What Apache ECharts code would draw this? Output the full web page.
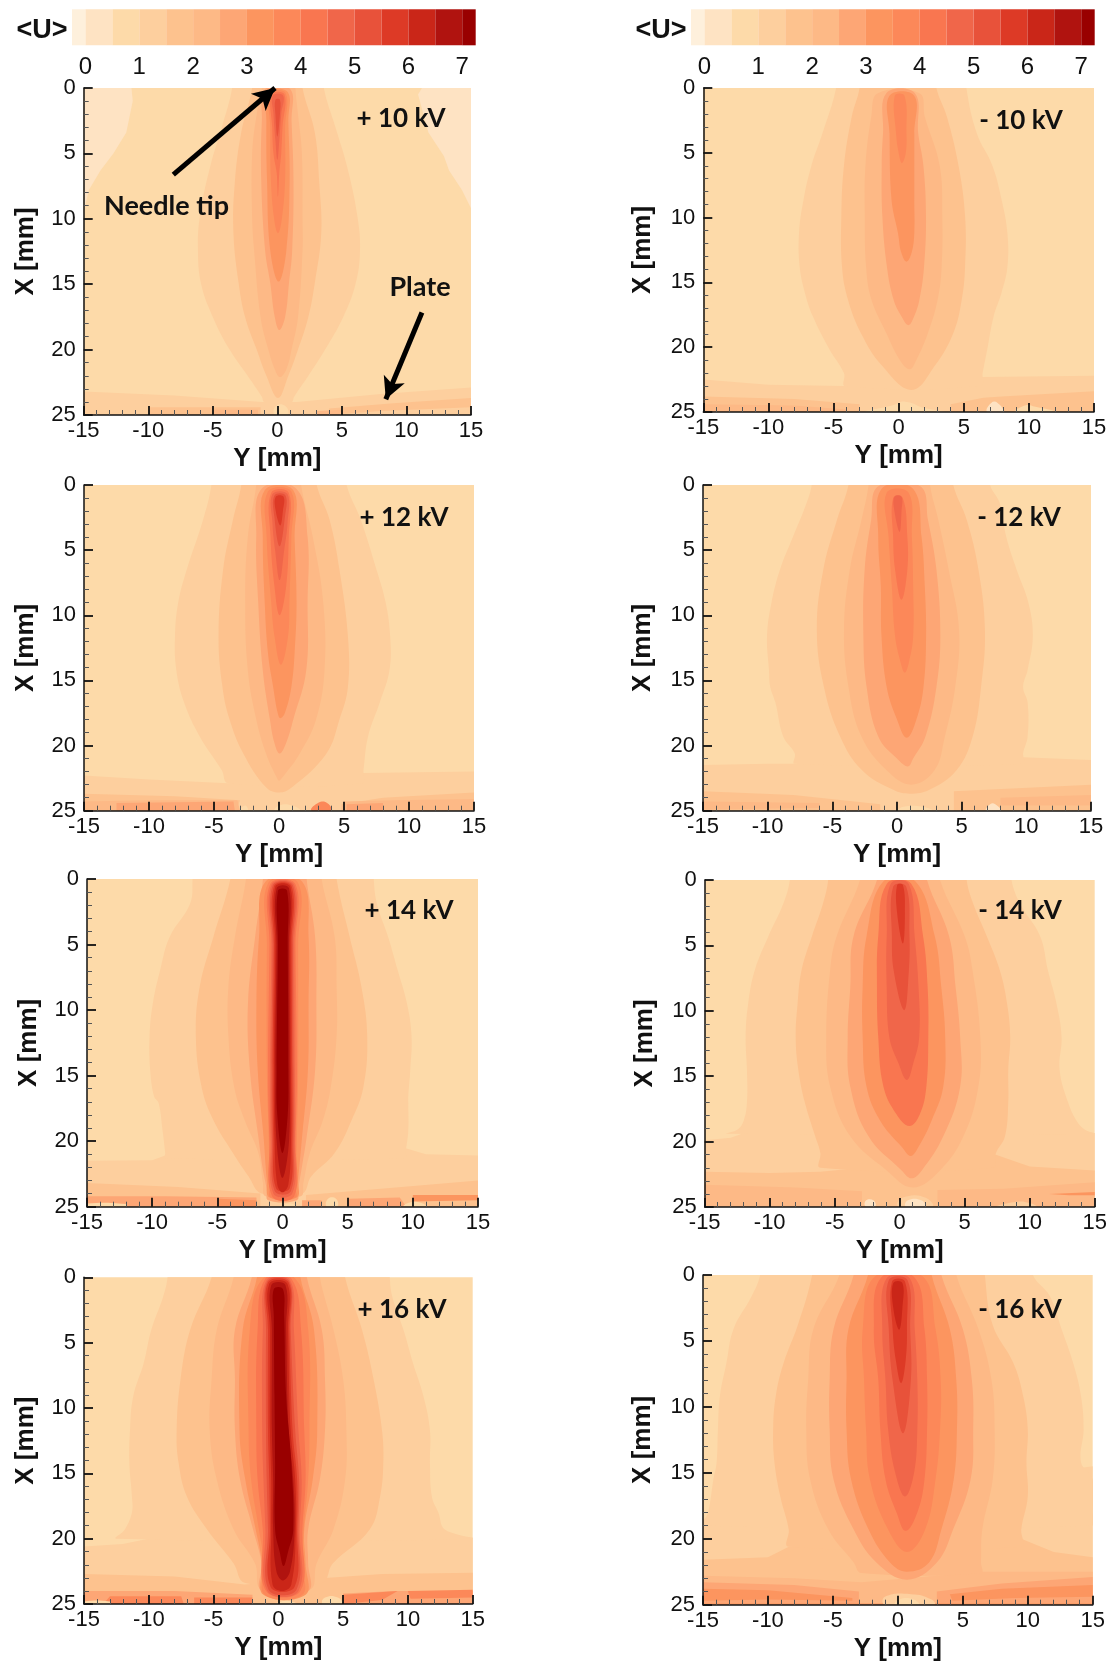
<!DOCTYPE html>
<html><head><meta charset="utf-8">
<script src="https://cdn.jsdelivr.net/npm/echarts@6/dist/echarts.min.js"></script>
<style>html,body{margin:0;padding:0;background:#fff}#c{width:1112px;height:1663px}</style>
</head><body><div id="c"></div>
<script>
// colour scale <U>
const bandEdges=[-0.25,0,0.5,1,1.5,2,2.5,3,3.5,4,4.5,5,5.5,6,6.5,7,7.25];
const bandColors=['#FEF0DC','#FEE3C3','#FDDAA9','#FDCF9E','#FDC28E','#FDB986','#FDA675','#FC955F','#FC8859','#F97650','#F0664A','#E8523A','#DD3A26','#CA2618','#B0130F','#990000'];
const barTicks=[0,1,2,3,4,5,6,7];
const xTicksMin=-15,xTicksMax=15,yTicksMax=25;

// Each panel: under = free polygons [colourIndex,[[Y,X],...]], plume = [colourIndex,[[X,Yleft,Yright],...]], over = free polygons
const p10under=[
[1,[[-15,0],[-11.3,0],[-11.2,1],[-11.7,3.4],[-12.7,5],[-13.7,6.3],[-14.6,7.8],[-15,9.5]]],
[1,[[15,0],[11.2,0],[10.9,.5],[11.7,3.4],[12.9,5.2],[13.3,6.3],[14.3,7.8],[15,9.2]]],
[3,[[-15,23.2],[-8,23.5],[-1.2,24],[1.5,24],[8,23.4],[15,22.9],[15,25],[-15,25]]],
[4,[[-10,24.4],[-5,24.4],[-1.3,24.4],[-1.3,25],[-10,25]]],
[4,[[4,24.5],[9,24.1],[15,23.7],[15,24.4],[8,24.7],[4,25]]],
[5,[[-5,24.6],[-1.5,24.6],[-1.5,25],[-5,25]]],
[5,[[3,24.7],[5,24.6],[4.8,25],[3,25]]]];
const p10plume=[
[3,[[0,-3.5,3.6],[3,-4.3,4.5],[6,-5.2,5.4],[9.8,-6,6.2],[12.5,-6.15,6.4],[15,-5.9,6.05],[17.5,-5,5.1],[20,-3.7,3.7],[22,-2.3,2.4],[23.6,-1.2,1.3],[24,-1,1.1]]],
[4,[[0,-1.95,1.95],[3.4,-2.8,2.9],[7.3,-3.3,3.25],[11.1,-3.4,3.4],[14.9,-3,2.9],[17.5,-2.5,2.4],[20,-1.6,1.6],[22,-.85,.85],[23.7,.05,.05]]],
[5,[[0,-1.2,1.4],[2,-1.6,1.6],[5,-1.95,1.9],[10,-1.95,1.95],[12.4,-1.8,1.95],[17.5,-1.3,1.6],[20,-.7,1.1],[21.5,-.2,.7],[22.1,.2,.2]]],
[6,[[.1,-.95,1],[2.5,-1.2,1.1],[7,-1.25,1.25],[12.4,-.95,1.15],[14.9,-.55,.9],[17.5,-.2,.6],[18.5,.15,.15]]],
[7,[[.3,-.75,.8],[2.5,-.85,.85],[7,-.8,.95],[12.4,-.55,.7],[14.8,.1,.1]]],
[8,[[.4,-.55,.65],[3,-.55,.6],[7,-.5,.6],[10,-.25,.35],[11.1,.05,.05]]],
[9,[[.5,-.45,.55],[3,-.4,.4],[5,-.3,.3],[6.5,-.05,.15],[8.3,.05,.05]]],
[10,[[.6,-.35,.45],[2,-.3,.3],[4,-.15,.15],[5.5,0,0]]],
[11,[[.9,-.15,.2],[2,-.15,.2],[3.7,0,0]]]];
const p10over=[[2,[[-.2,25],[-.1,24.3],[.6,24.3],[.8,25]]]];

const m10under=[
[3,[[-15,22.5],[-10,22.9],[-4.2,23],[6.4,22.3],[15,22.2],[15,25],[-15,25]]],
[4,[[-15,23.8],[-8,24],[-3,24.4],[-3,25],[-15,25]]],
[4,[[4,24.4],[6.5,23.9],[7.9,23.8],[15,23.4],[15,25],[4,25]]],
[5,[[-15,24.4],[-8,24.5],[-4,24.8],[-4,25],[-15,25]]]];
const m10plume=[
[3,[[0,-4.8,5.2],[3.5,-5.85,6],[6,-6.7,7.2],[8.6,-7.3,7.9],[11.2,-7.65,8.35],[13.8,-7.6,8.35],[15.8,-7.2,7.9],[17.6,-6.6,7.3],[20.2,-5.3,6.8],[22,-4.2,6.45],[23,-4.1,6.3]]],
[4,[[0,-3,2.9],[2.2,-3.6,3.7],[6,-4.2,4.6],[9.9,-4.4,5.1],[13.8,-4.35,5.1],[16.3,-3.9,4.85],[18.9,-2.9,4.2],[21.4,-1.3,2.8],[23.3,1,1]]],
[5,[[.4,-1.6,1.6],[2.2,-2.1,2],[6,-2.55,3.15],[9.9,-2.6,3.35],[13.8,-2.5,3.3],[16.3,-2.1,3],[18.9,-.95,2.25],[21,.1,1.35],[21.7,.85,.85]]],
[6,[[.4,-.95,1.25],[3.5,-1.2,1.5],[6,-1.3,1.9],[9.9,-1.25,2.1],[13.8,-.9,1.95],[16.3,-.4,1.6],[17.6,.2,1.2],[18.3,.75,.75]]],
[7,[[.6,-.7,1.2],[3.5,-.7,1.2],[8.6,-.55,1.2],[11.2,-.05,1.2],[12.7,.2,1],[13.4,.6,.6]]],
[8,[[.6,-.3,.45],[3.5,-.2,.6],[5,0,.55],[5.8,.25,.25]]]];
const m10over=[
[2,[[-2.5,25],[-.5,24.5],[.5,24.2],[2,24.7],[3.5,25]]],
[1,[[6.8,25],[7.1,24.3],[7.6,24.3],[8,25]]],
[2,[[9,25],[9.7,24.5],[10.5,24.6],[12,25]]]];

const p12under=[
[3,[[-15,22.3],[-10,22.6],[-3.9,22.9],[6.4,22.1],[15,22],[15,25],[-15,25]]],
[4,[[-15,23.7],[-8,23.9],[-3,24.2],[-3.3,25],[-15,25]]],
[4,[[4.8,24.5],[8,24],[15,23.6],[15,25],[4.8,25]]],
[5,[[-15,24.3],[-10,24.2],[-3.2,24.2],[-3,25],[-15,25]]],
[5,[[5,24.3],[9,24.2],[15,24.1],[15,25],[5,25]]],
[6,[[-12.5,24.4],[-3.5,24.3],[-3.4,25],[-12.5,25]]],
[6,[[5.2,24.5],[8,24.4],[8,25],[5.2,25]]]];
const p12plume=[
[3,[[0,-5.2,5.2],[2.7,-5.85,6.3],[6.5,-7.1,7.5],[9,-7.75,8.2],[11.6,-8,8.55],[14.2,-7.9,8.5],[16.7,-7.3,7.75],[19.3,-6.1,6.85],[21.9,-4.4,6.5],[22.9,-3.9,6.4]]],
[4,[[0,-2.9,2.9],[2.7,-3.55,3.9],[6.5,-4.3,4.65],[11.6,-4.65,5.3],[15.5,-4.35,5.3],[18,-3.8,4.65],[20.6,-2.75,3.65],[23.2,-1,1],[23.6,0,0]]],
[5,[[0,-1.75,1.7],[4,-2.4,2.6],[9,-2.6,3.4],[14.2,-2.4,3.5],[18,-1.75,2.85],[20.6,-1,1.6],[22.4,-.2,.3],[22.7,0,0]]],
[6,[[.3,-1.35,1.35],[4,-1.75,2.2],[9,-1.6,2.2],[14.2,-1.25,2.1],[18,-.7,1.1],[19.8,-.35,.55],[20.6,.05,.05]]],
[7,[[.4,-1.1,1.1],[4,-1.25,1.2],[9,-1.1,1.35],[12.9,-.85,1.2],[15.5,-.45,.95],[17.5,-.1,.45],[17.9,.1,.1]]],
[8,[[.5,-.85,.95],[4,-.95,.95],[9,-.6,.8],[11.6,-.35,.7],[13.8,.15,.15]]],
[9,[[.6,-.6,.75],[4,-.65,.75],[7.8,-.35,.55],[10,.05,.05]]],
[10,[[.7,-.5,.65],[3,-.5,.65],[5,-.3,.4],[7.3,.05,.05]]],
[11,[[.8,-.35,.5],[2.5,-.35,.45],[4.7,.05,.05]]],
[12,[[.9,-.25,.35],[2,-.25,.3],[3.1,.1,.1]]]];
const p12over=[
[8,[[2.5,25],[3,24.4],[3.7,24.4],[4,25]]],
[2,[[-3,25],[-2.6,24.6],[-2.4,25]]],
[2,[[-.3,25],[0,24.6],[1,24.6],[1.6,25]]]];

const m12under=[
[3,[[-15,21.5],[-10,21.4],[-7.9,21.4],[9.75,20.9],[15,21.1],[15,25],[-15,25]]],
[4,[[-15,23.5],[-8,23.8],[-1.3,24.5],[-1.3,25],[-15,25]]],
[4,[[4.4,23.5],[15,23],[15,25],[4.4,25]]],
[5,[[-15,24.3],[-6,24.4],[-6,24.8],[-15,24.9]]],
[5,[[8,24],[15,23.8],[15,24.6],[8,24.6]]]];
const m12plume=[
[3,[[0,-6.6,7.2],[1.4,-7,7.95],[4,-8.05,8.45],[6.5,-9.05,9.25],[9,-9.7,10.15],[11.6,-10.05,10.5],[14.2,-9.9,10.1],[15.5,-9.8,9.75],[16.7,-9.4,10.1],[19.3,-8.8,10.1],[20.6,-7.9,9.75],[21.4,-7.9,9.75]]],
[4,[[0,-3.75,4.35],[2.7,-4.65,5.4],[6.5,-5.7,6.3],[11.15,-6.2,6.8],[15.5,-5.65,6.5],[19.3,-4.4,5.85],[21.9,-2.7,4.6],[23.4,-.3,2.5],[23.7,1,1]]],
[5,[[0,-2.2,2.55],[2.7,-2.75,3.2],[6.5,-3.65,4],[11.15,-4.1,4.8],[15.5,-3.75,4.5],[19.3,-2.75,3.7],[21.9,-.8,2.9],[23,1.1,1.1]]],
[6,[[.1,-1.45,1.8],[2.7,-2,2.4],[6.5,-2.5,3.05],[11.6,-2.6,3.35],[15.5,-2.35,3.05],[19.3,-1.45,2.2],[21,0,1.25],[21.6,.85,.85]]],
[7,[[.3,-1.2,1.25],[4,-1.45,1.9],[7.8,-1.25,2.15],[11.6,-1.2,2.25],[15.5,-.8,2.05],[18,0,1.5],[19.4,.75,.75]]],
[8,[[.6,-.8,.9],[4,-.65,1.15],[7.8,-.4,1.25],[11.6,-.15,1.25],[13.7,.3,.9],[14.4,.6,.6]]],
[9,[[1,-.3,.45],[4,-.3,.8],[6.5,-.15,.8],[8.8,.35,.35]]],
[10,[[.9,-.2,.35],[2,-.2,.35],[3.6,.2,.2]]]];
const m12over=[
[1,[[6.9,25],[7.2,24.5],[7.6,24.5],[8,25]]],
[2,[[.1,25],[.5,24.7],[2,24.7],[2.7,25]]]];

const p14under=[
[3,[[-15,21.5],[-10,21.45],[-9,21.1],[9.45,20.55],[11,21],[15,21.1],[15,25],[-15,25]]],
[4,[[-15,23.2],[-8,23.5],[-1.7,24],[-1.7,25],[-15,25]]],
[4,[[1.8,24.1],[8,23.6],[15,23],[15,25],[1.8,25]]],
[6,[[-15,24.2],[-9,24.2],[-2,24.3],[-2,25],[-15,25]]],
[6,[[5,24.4],[9,24.3],[9.5,25],[5,25]]],
[7,[[10,24.1],[15,24.1],[15,24.5],[10,24.6]]],
[7,[[-5,24.4],[-2,24.5],[-2,25],[-5,25]]],
[6,[[1.5,24.5],[3,24.5],[3,25],[1.5,25]]]];
const p14plume=[
[3,[[0,-6.9,7],[1.9,-7.1,7.25],[4.4,-8.65,8.1],[7,-9.4,8.85],[9.5,-9.95,9.55],[12,-10.2,9.9],[14.6,-10.15,9.8],[16.6,-9.85,9.65],[17.1,-9.5,9.65],[19.2,-9.2,9.65],[20.9,-9,9.45],[21.3,-9,9.45]]],
[4,[[0,-4,4.15],[4.4,-5.3,5.15],[8.2,-6.35,6.05],[12,-6.65,6.5],[15.9,-6.2,6.2],[18.4,-5.3,5.3],[20.9,-3.8,4],[22.7,-2.6,2.2],[24,-1.6,1.5]]],
[5,[[0,-2.8,3],[4.4,-3.65,4],[8.2,-4.15,4.15],[12,-4.15,4.15],[15.9,-3.7,3.7],[18.4,-2.9,3.1],[20.9,-1.85,2.1],[23.2,-1.5,1.6],[24.2,-1.3,1.4]]],
[6,[[0,-1.5,1.85],[4.4,-2.1,2.5],[9.5,-2.65,2.6],[14.6,-2.5,2.5],[19.7,-1.85,1.85],[22.2,-1.5,1.45],[23.7,-1.2,1.2],[24.5,-1.1,1.1]]],
[7,[[.2,-1.3,1.5],[4.4,-1.8,2],[9.5,-2,2],[14.6,-1.9,1.95],[19.7,-1.45,1.5],[23,-1.2,1.2],[24.3,-1,1.1]]],
[8,[[.3,-1.1,1.2],[5,-1.2,1.2],[14.6,-1.2,1.2],[20,-1.05,1.1],[23.5,-1,1],[24.3,-.9,1]]],
[9,[[.4,-.95,1],[5,-1,1],[14.6,-1.1,1.1],[20,-1,1],[24.2,-.8,.9]]],
[10,[[.45,-.85,.9],[5,-.85,.9],[14.6,-.95,.95],[20,-.9,.95],[24,-.7,.75]]],
[11,[[.5,-.75,.8],[5,-.75,.8],[14.6,-.85,.85],[20,-.8,.85],[23.8,-.6,.65]]],
[12,[[.55,-.65,.7],[5,-.65,.7],[14.6,-.75,.75],[20,-.7,.75],[23.6,-.5,.55]]],
[13,[[.6,-.55,.6],[5,-.55,.6],[14.6,-.65,.65],[20,-.6,.65],[23.3,-.4,.45],[23.9,0,0]]],
[14,[[.7,-.45,.5],[5,-.45,.5],[14.6,-.55,.55],[20,-.45,.5],[22.8,0,0]]],
[15,[[.9,-.35,.35],[5,-.35,.4],[14.6,-.45,.45],[18,-.4,.4],[20.9,0,0]]]];
const p14over=[
[2,[[3.4,25],[3.5,24.4],[4.1,24.4],[4.2,25]]],
[2,[[-15,25],[-15,24.75],[-12,24.8],[-12,25]]],
[2,[[.1,25],[.3,24.8],[.8,24.8],[1,25]]],
[2,[[9.3,25],[9.7,24.7],[10.6,24.7],[11,25]]]];

const m14under=[
[3,[[-15,19.9],[-13,19.7],[-11,19],[12,18.5],[15,19.4],[15,25],[-15,25]]],
[4,[[-15,22.3],[-10,22.4],[-6.1,22.3],[7.4,21],[10,21.9],[15,22.2],[15,25],[-15,25]]],
[5,[[-15,23.3],[-8,23.5],[-2.9,23.8],[-2.9,25],[-15,25]]],
[5,[[2.9,23.7],[8,23.6],[15,23.1],[15,25],[2.9,25]]],
[7,[[11.5,24],[15,23.85],[15,24.1],[13,24.1]]]];
const m14plume=[
[3,[[0,-8.45,8.6],[1.8,-8.95,9.25],[4.3,-10.1,10.8],[6.9,-11.15,11.4],[9.4,-11.65,12.05],[12,-11.85,12.45],[14.5,-11.75,12.3],[17,-11.75,12.95],[18.4,-12,13.6],[19.1,-12.5,14.25],[19.4,-13.3,15]]],
[4,[[0,-5.5,5.15],[1.8,-5.9,5.65],[4.3,-6.75,6.7],[6.9,-7.55,7.7],[9.4,-7.85,8.25],[12,-8,8.5],[14.5,-7.8,8.35],[17,-7.3,8.35],[19.6,-6.5,8.1],[20.9,-6.1,7.4],[22,-6.1,7.2]]],
[5,[[0,-3.05,3.1],[4.3,-4.85,5],[6.9,-5.35,5.6],[12,-5.65,6.2],[15.8,-5.35,6.05],[19.6,-3.8,4.9],[22.2,-1,3.1],[23.5,1,1]]],
[6,[[0,-1.75,2.1],[4.3,-3.55,3.8],[8.2,-3.8,4.3],[12,-4,4.65],[15.8,-3.8,4.65],[19.6,-2.4,3.35],[22.2,.15,1.7],[22.8,.9,.9]]],
[7,[[.1,-1.25,1.2],[4.3,-2.55,2.7],[8.2,-2.85,3.2],[12,-2.85,3.5],[15.8,-2.55,3.35],[18.4,-1.5,2.45],[20.4,.15,1.45],[21.1,.85,.85]]],
[9,[[.3,-1,.9],[4.3,-1.65,1.8],[8.2,-1.75,2.15],[12,-1.65,2.2],[15.8,-1.25,2.05],[17.9,-.25,1.55],[18.8,.75,.75]]],
[10,[[.3,-.7,.7],[4.3,-1,1.15],[8.2,-1,1.45],[12,-.8,1.5],[14,-.1,1.05],[15.3,.55,.55]]],
[11,[[.5,-.5,.5],[4.3,-.6,.75],[7,-.45,.7],[9.95,.35,.35]]],
[12,[[.4,-.2,.25],[2.5,-.2,.4],[4.85,.25,.25]]]];
const m14over=[
[3,[[-.2,24.7],[.5,24.2],[2,24.3],[2.5,25],[0,25]]],
[1,[[-2.6,25],[-2.6,24.5],[-2,24.5],[-1.9,25]]],
[1,[[.5,25],[.6,24.5],[1.7,24.5],[1.9,25]]],
[3,[[7.5,25],[9,24.6],[10,24.7],[10.5,25]]]];

const p16under=[
[3,[[-15,20.6],[-12,20.4],[-9,19.8],[9,19.6],[13,19.7],[15,20],[15,25],[-15,25]]],
[4,[[-15,22.7],[-8,22.9],[-2.6,23.5],[3.9,23],[8,22.7],[15,22.6],[15,25],[-15,25]]],
[6,[[-15,24],[-8,24],[-2,24.3],[-2,25],[-15,25]]],
[6,[[5,24.2],[9,24],[15,24],[15,25],[5,25]]],
[8,[[-13,24.4],[-7.5,24.4],[-7.3,25],[-13.5,25]]],
[8,[[-6.5,24.5],[-2,24.5],[-2,25],[-6.5,25]]],
[8,[[5,24.3],[9.2,24],[8,24.7],[5,25]]],
[8,[[10,24],[15,23.9],[15,24.5],[10.2,24.6]]]];
const p16plume=[
[3,[[0,-8.55,8.6],[1.5,-8.9,8.8],[4,-9.8,9.65],[6.6,-10.4,10.4],[9.1,-11.2,11.2],[11.7,-11.45,11.7],[14.2,-11.5,11.7],[16.8,-11.3,11.85],[18,-11.3,12.35],[19.3,-11.85,12.85],[20,-12.5,15]]],
[4,[[0,-5.15,5.15],[4,-6.8,6.45],[7.8,-7.55,7.35],[11.7,-7.85,8],[14.2,-7.7,8.1],[16.8,-7.05,7.85],[19.3,-5.5,7.05],[21.9,-3.45,4.2],[23.4,-2.55,3.35]]],
[5,[[0,-3.45,3.2],[4,-4.75,4.25],[7.8,-5.15,5],[11.7,-5.3,5.25],[15.5,-4.75,5.15],[19.3,-3.45,4.25],[21.9,-1.8,2.95],[23.9,-1.3,2.45]]],
[6,[[0,-2.05,2.2],[4,-3.35,3.35],[7.8,-3.35,3.6],[11.7,-3.35,3.6],[15.5,-2.95,3.2],[19.3,-1.95,2.3],[21.9,-1.3,2.3],[24,-1.3,2.3]]],
[7,[[0,-1.65,1.7],[4,-2.75,2.75],[11.7,-3,3],[15.5,-2.55,2.65],[19.3,-1.75,2],[21.9,-1.25,2.1],[24.3,-1.15,2.1]]],
[8,[[.1,-1.2,1.3],[4,-2.2,2.3],[11.7,-2.3,2.4],[15.5,-2.1,2.3],[19.3,-1.5,1.95],[21.9,-1.1,1.85],[24.3,-1.05,1.85]]],
[9,[[.1,-1,1],[4,-1.6,1.75],[11.7,-1.7,2],[15.5,-1.6,2.1],[19.3,-1.2,1.85],[24,-.95,1.7]]],
[10,[[.2,-.9,.9],[4,-1.2,1.2],[11.7,-1.25,1.55],[15.5,-1.15,1.8],[19.3,-1,1.65],[24,-.85,1.55]]],
[11,[[.3,-.85,.85],[4,-.95,.95],[11.7,-.95,1.3],[15.5,-.9,1.6],[19.3,-.8,1.55],[23.9,-.75,1.4]]],
[12,[[.4,-.8,.8],[4,-.8,.85],[11.7,-.8,1.1],[15.5,-.7,1.45],[19.3,-.65,1.45],[23.7,-.6,1.25]]],
[13,[[.5,-.7,.7],[4,-.65,.75],[11.7,-.65,.95],[15.5,-.55,1.3],[19.3,-.55,1.35],[23.5,-.45,1],[24,.3,.3]]],
[14,[[.6,-.55,.55],[4,-.5,.6],[11.7,-.5,.8],[15.5,-.4,1.15],[19.3,-.4,1.25],[22.5,-.15,.9],[23.2,.35,.35]]],
[15,[[.9,-.35,.35],[3,-.35,.45],[9,-.3,.6],[14.2,-.25,1],[19.3,-.25,1.15],[21,.1,.75],[22.1,.4,.4]]]];
const p16over=[
[2,[[3.4,25],[3.6,24.5],[4.6,24.5],[4.9,25]]],
[2,[[-15,25],[-15,24.8],[-13,24.8],[-13,25]]],
[4,[[2,24.5],[3,24.3],[3.3,25],[2,25]]],
[2,[[-.2,25],[.2,24.8],[1,24.8],[1.4,25]]]];

const m16under=[
[3,[[-15,18.5],[15,14.5],[15,25],[-15,25]]],
[4,[[-15,21.6],[-10,21.4],[-8.4,20.6],[9.5,20],[12,21],[15,21.4],[15,25],[-15,25]]],
[5,[[-15,22.8],[-8,23],[-2.8,23.3],[6.5,22.5],[15,22.5],[15,25],[-15,25]]],
[6,[[-15,23.3],[-8,23.5],[-3,24],[-3,25],[-15,25]]],
[6,[[3,24],[8,23.4],[15,22.9],[15,25],[3,25]]],
[7,[[-15,23.8],[-10,23.9],[-3.5,24.5],[-3.5,24.7],[-10,24.6],[-15,24.7]]],
[7,[[4,24.2],[8,23.8],[15,23.5],[15,24.4],[9,24.5],[4.2,24.7]]],
[7,[[-15,24.9],[15,24.9],[15,25],[-15,25]]]];
const m16plume=[
[3,[[0,-10.6,10.4],[1.6,-11.25,11.7],[4.1,-12.65,12.6],[6.7,-13.2,13.5],[9.2,-13.7,14.1],[11.7,-13.85,14.3],[14.2,-13.95,14.1],[15.5,-14.2,15],[18,-14.6,15],[19,-15,15]]],
[4,[[0,-6.6,6.7],[3.8,-7.7,7.3],[6.7,-8.8,8.9],[9.2,-9.4,9.65],[11.7,-9.6,10],[14.2,-9.5,9.9],[16.8,-9.05,10],[19.3,-8.4,9.5],[20.6,-8.4,9.5]]],
[5,[[0,-4.5,4.5],[4.1,-6.5,6.2],[7.9,-6.9,7.2],[11.7,-7.05,7.45],[15.5,-6.75,7.3],[19.3,-5.35,6.5],[21.8,-3.4,6.4],[22.6,-2.8,6.4]]],
[6,[[0,-3.4,3.35],[4.1,-4.95,5],[8,-5.25,5.7],[11.7,-5.25,5.8],[15.5,-4.95,5.6],[19.3,-3.4,4.25],[21.8,-1.65,3],[23.1,.7,.7]]],
[7,[[0,-2.3,2.6],[4.1,-3.8,4],[8,-3.95,4.5],[11.7,-3.95,4.55],[15.5,-3.6,4.3],[19.3,-2.25,3.35],[21.8,-.6,2.4],[22.5,.7,.7]]],
[8,[[.1,-1.75,1.9],[4.1,-2.7,2.9],[8,-2.6,3.3],[11.7,-2.45,3.25],[15.5,-2.15,2.9],[19.3,-.75,2.1],[21,.7,.7]]],
[9,[[.2,-1.3,1.3],[4.1,-1.85,2.05],[8,-1.5,2.25],[11.7,-1.35,2.25],[15.5,-.95,2.05],[18,-.1,1.5],[19.4,.6,.6]]],
[10,[[.3,-.9,.95],[4.1,-1.2,1.3],[8,-.95,1.5],[11.7,-.75,1.5],[15,-.2,1.25],[16.8,.55,.55]]],
[11,[[.4,-.7,.75],[4.1,-.7,.95],[8,-.4,1],[12,.4,.4]]],
[12,[[.5,-.45,.55],[4.1,-.4,.7],[6.5,-.15,.6],[8.2,.25,.25]]],
[13,[[.6,-.35,.35],[2.5,-.35,.35],[4.15,.1,.1]]]];
const m16over=[
[3,[[-1,25],[-1,24.4],[1,24.2],[2.6,24.6],[2.8,25]]],
[2,[[-.2,25],[.1,24.6],[1.2,24.6],[1.6,25]]]];

const panelNames=['+ 10 kV','- 10 kV','+ 12 kV','- 12 kV','+ 14 kV','- 14 kV','+ 16 kV','- 16 kV'];
const panelUnder=[p10under,m10under,p12under,m12under,p14under,m14under,p16under,m16under];
const panelPlume=[p10plume,m10plume,p12plume,m12plume,p14plume,m14plume,p16plume,m16plume];
const panelOver=[p10over,m10over,p12over,m12over,p14over,m14over,p16over,m16over];
const needleArrow=[[-8.06,6.63],[-0.18,0]];
const plateArrow=[[11.2,17.17],[8.4,23.8]];

// layout in page pixels
const rects=[[83.7,88,387.3,327],[703.3,88,390.7,324],[84,485,390,325.7],[703,485,388,325.7],[87,879,391,327.7],[704.7,880,390,327],[84,1277.3,388.7,326.7],[703,1275,389.7,329.7]];
const labelPos=[[401,119],[1021,121],[404,518],[1019,518],[409,911],[1020,911],[402,1310],[1020,1310]];
const barRects=[[72,9.3,403.7,36],[691,9.3,403.7,36]];

const grids=[],xAxes=[],yAxes=[],series=[],graphics=[];
const FONT='Liberation Sans';
function plumePoints(st){
  const s=st.slice(); if(s[0][0]===0) s.unshift([-1.5,s[0][1],s[0][2]]);
  const L=s.map(r=>[r[1],r[0]]), R=s.filter(r=>r[1]!==r[2]).map(r=>[r[2],r[0]]).reverse();
  return L.concat(R);
}
rects.forEach((r,i)=>{
  grids.push({left:r[0],top:r[1],width:r[2],height:r[3],show:true,backgroundColor:bandColors[2],borderWidth:0});
  xAxes.push({gridIndex:i,type:'value',min:xTicksMin,max:xTicksMax,interval:5,z:10,
    axisLine:{show:true,onZero:false,lineStyle:{color:'#111',width:1.5}},
    axisTick:{show:true,inside:true,length:9,lineStyle:{color:'#111',width:1.8}},
    minorTick:{show:true,splitNumber:5,length:5,lineStyle:{color:'#555',width:1}},
    splitLine:{show:false},
    axisLabel:{color:'#111',fontSize:22,fontFamily:FONT,margin:5},
    name:'Y [mm]',nameLocation:'middle',nameGap:31,
    nameTextStyle:{color:'#111',fontSize:26,fontWeight:'bold',fontFamily:FONT}});
  yAxes.push({gridIndex:i,type:'value',inverse:true,min:0,max:yTicksMax,interval:5,z:10,
    axisLine:{show:true,onZero:false,lineStyle:{color:'#111',width:1.5}},
    axisTick:{show:true,inside:true,length:9,lineStyle:{color:'#111',width:1.8}},
    minorTick:{show:true,splitNumber:5,length:5,lineStyle:{color:'#555',width:1}},
    splitLine:{show:false},
    axisLabel:{color:'#111',fontSize:22,fontFamily:FONT,margin:8},
    name:'X [mm]',nameLocation:'middle',nameGap:i%2?47:45,
    nameTextStyle:{color:'#111',fontSize:26,fontWeight:'bold',fontFamily:FONT}});
  const layers=[];
  panelUnder[i].forEach(l=>layers.push({c:l[0],pts:l[1],smooth:0}));
  panelPlume[i].forEach(l=>layers.push({c:l[0],pts:plumePoints(l[1]),smooth:0.4}));
  panelOver[i].forEach(l=>layers.push({c:l[0],pts:l[1],smooth:0.5}));
  const s={type:'custom',xAxisIndex:i,yAxisIndex:i,coordinateSystem:'cartesian2d',clip:true,silent:true,animation:false,
    data:layers.map((l,k)=>[k]),encode:{x:[],y:[]},
    renderItem:(p,api)=>{const l=layers[api.value(0)];
      return {type:'polygon',shape:{points:l.pts.map(q=>api.coord(q)),smooth:l.smooth},style:{fill:bandColors[l.c]}};}};
  if(i===0){
    const mk=a=>[{coord:a[0],symbol:'none'},{coord:a[1],symbol:'arrow',symbolSize:[17,22]}];
    s.markLine={silent:true,animation:false,label:{show:false},lineStyle:{color:'#000',width:5,type:'solid',opacity:1},
      data:[mk(needleArrow),mk(plateArrow)]};
  }
  series.push(s);
  graphics.push({type:'text',x:labelPos[i][0],y:labelPos[i][1],z:50,
    style:{text:panelNames[i],font:'bold 26px Lato',fill:'#111',textAlign:'center',textVerticalAlign:'middle'}});
});
graphics.push({type:'text',x:166.5,y:206,z:50,style:{text:'Needle tip',font:'bold 27px Lato',fill:'#111',textAlign:'center',textVerticalAlign:'middle'}});
graphics.push({type:'text',x:420,y:287,z:50,style:{text:'Plate',font:'bold 27px Lato',fill:'#111',textAlign:'center',textVerticalAlign:'middle'}});

barRects.forEach((r,k)=>{
  const g=grids.length;
  grids.push({left:r[0],top:r[1],width:r[2],height:r[3],show:false});
  xAxes.push({gridIndex:g,type:'value',min:bandEdges[0],max:bandEdges[bandEdges.length-1],
    axisLine:{show:false},axisTick:{show:false},splitLine:{show:false},
    axisLabel:{color:'#111',fontSize:24,fontFamily:FONT,margin:10,customValues:barTicks}});
  yAxes.push({gridIndex:g,type:'value',min:0,max:1,show:false});
  series.push({type:'custom',xAxisIndex:g,yAxisIndex:g,coordinateSystem:'cartesian2d',silent:true,animation:false,
    data:bandColors.map((c,i)=>[i]),encode:{x:[],y:[]},
    renderItem:(p,api)=>{const i=api.value(0),a=api.coord([bandEdges[i],1]),b=api.coord([bandEdges[i+1],0]);
      return {type:'rect',shape:{x:a[0],y:a[1],width:b[0]-a[0],height:b[1]-a[1]},style:{fill:bandColors[i]}};}});
  graphics.push({type:'text',x:r[0]-30,y:31,z:50,style:{text:'<U>',font:'bold 27px "Liberation Sans"',fill:'#111',textAlign:'center',textVerticalAlign:'middle'}});
});

const chart=echarts.init(document.getElementById('c'),null,{renderer:'canvas'});
chart.setOption({animation:false,backgroundColor:'#fff',grid:grids,xAxis:xAxes,yAxis:yAxes,series:series,graphic:{elements:graphics}});
</script></body></html>
